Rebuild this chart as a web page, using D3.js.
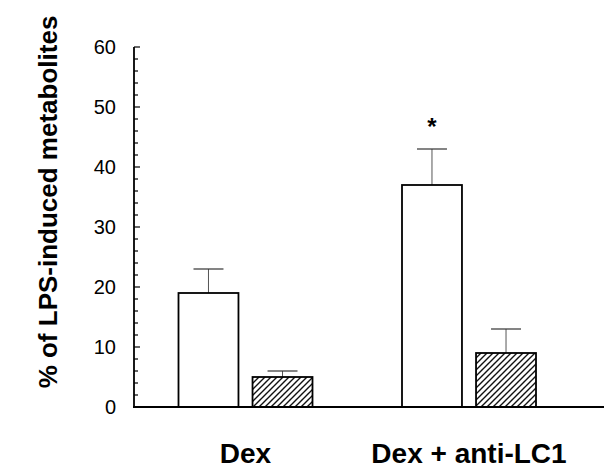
<!DOCTYPE html>
<html>
<head>
<meta charset="utf-8">
<script src="https://cdn.jsdelivr.net/npm/d3@7"></script>
<style>
  body { margin: 0; background: #fff; }
  svg { display: block; font-family: "Liberation Sans", Arial, sans-serif; }
</style>
</head>
<body>
<svg id="chart"></svg>
<script>
// data
const groups = ['Dex', 'Dex + anti-LC1'];
const series = ['open', 'hatched'];
const openValues = [19, 37];
const openErrors = [4, 6];
const hatchedValues = [5, 9];
const hatchedErrors = [1, 4];
const significant = [false, true];
const yTicks = [0, 10, 20, 30, 40, 50, 60];

const width = 606, height = 470;
const svg = d3.select('#chart').attr('width', width).attr('height', height);

const axisX = 134, axisRight = 604;
const y = d3.scaleLinear().domain([0, 60]).range([407, 47]);
const x0 = d3.scalePoint().domain(groups).range([245.5, 469]);
const x1 = d3.scaleBand().domain(series).range([-67, 67]).paddingInner(0.19);

const rows = [];
groups.forEach((g, i) => {
    rows.push({ group: g, series: 'open', value: openValues[i], err: openErrors[i] });
    rows.push({ group: g, series: 'hatched', value: hatchedValues[i], err: hatchedErrors[i] });
});

// hatch pattern
const defs = svg.append('defs');
const pat = defs.append('pattern')
    .attr('id', 'hatch')
    .attr('patternUnits', 'userSpaceOnUse')
    .attr('width', 6)
    .attr('height', 6);
pat.append('rect').attr('width', 6).attr('height', 6).attr('fill', '#fff');
pat.append('path')
    .attr('d', 'M-1,1 l2,-2 M0,6 l6,-6 M5,7 l2,-2')
    .attr('stroke', '#111')
    .attr('stroke-width', 1.4);

const barX = d => x0(d.group) + x1(d.series);

// error bars
const errs = svg.append('g').attr('class', 'errors');
errs.selectAll('line.stem')
    .data(rows)
    .join('line')
    .attr('class', 'stem')
    .attr('x1', d => barX(d) + x1.bandwidth() / 2)
    .attr('x2', d => barX(d) + x1.bandwidth() / 2)
    .attr('y1', d => y(d.value))
    .attr('y2', d => y(d.value + d.err))
    .attr('stroke', '#555')
    .attr('stroke-width', 1);
errs.selectAll('line.cap')
    .data(rows)
    .join('line')
    .attr('class', 'cap')
    .attr('x1', d => barX(d) + x1.bandwidth() / 4)
    .attr('x2', d => barX(d) + x1.bandwidth() * 3 / 4)
    .attr('y1', d => y(d.value + d.err))
    .attr('y2', d => y(d.value + d.err))
    .attr('stroke', '#333')
    .attr('stroke-width', 1.2);

// bars
svg.append('g').attr('class', 'bars')
    .selectAll('rect')
    .data(rows)
    .join('rect')
    .attr('x', d => barX(d))
    .attr('y', d => y(d.value))
    .attr('width', x1.bandwidth())
    .attr('height', d => y(0) - y(d.value))
    .attr('fill', d => d.series === 'open' ? '#fff' : 'url(#hatch)')
    .attr('stroke', '#000')
    .attr('stroke-width', 1.8);

// significance marks
svg.append('g').attr('class', 'stars')
    .selectAll('text')
    .data(groups.map((g, i) => ({ group: g, sig: significant[i], top: openValues[i] + openErrors[i] })).filter(d => d.sig))
    .join('text')
    .attr('x', d => x0(d.group) + x1('open') + x1.bandwidth() / 2)
    .attr('y', d => y(d.top) - 14)
    .attr('text-anchor', 'middle')
    .attr('font-size', 24)
    .attr('font-weight', 'bold')
    .text('*');

// y axis, ticks inward
const yMinor = d3.range(0, 61, 2);
const yAxis = svg.append('g').attr('transform', `translate(${axisX},0)`);
yAxis.append('line')
    .attr('y1', y(60)).attr('y2', y(0))
    .attr('stroke', '#000').attr('stroke-width', 1.8);
yAxis.selectAll('line.tick')
    .data(yMinor)
    .join('line')
    .attr('class', 'tick')
    .attr('x1', 0)
    .attr('x2', d => d % 10 === 0 ? 6 : 4)
    .attr('y1', d => y(d)).attr('y2', d => y(d))
    .attr('stroke', '#000').attr('stroke-width', 1.2);
yAxis.selectAll('text')
    .data(yTicks)
    .join('text')
    .attr('x', -18)
    .attr('y', d => y(d))
    .attr('dy', '0.36em')
    .attr('text-anchor', 'end')
    .attr('font-size', 20)
    .text(d => d);

// x axis line
svg.append('line')
    .attr('x1', axisX - 1).attr('x2', axisRight)
    .attr('y1', y(0)).attr('y2', y(0))
    .attr('stroke', '#000').attr('stroke-width', 2);

// category labels
svg.append('g')
    .selectAll('text')
    .data(groups)
    .join('text')
    .attr('x', d => x0(d))
    .attr('y', 463)
    .attr('text-anchor', 'middle')
    .attr('font-size', 28)
    .attr('font-weight', 'bold')
    .text(d => d);

// y title
svg.append('text')
    .attr('transform', 'translate(57,202) rotate(-90)')
    .attr('text-anchor', 'middle')
    .attr('font-size', 26)
    .attr('font-weight', 'bold')
    .text('% of LPS-induced metabolites');
</script>
</body>
</html>
